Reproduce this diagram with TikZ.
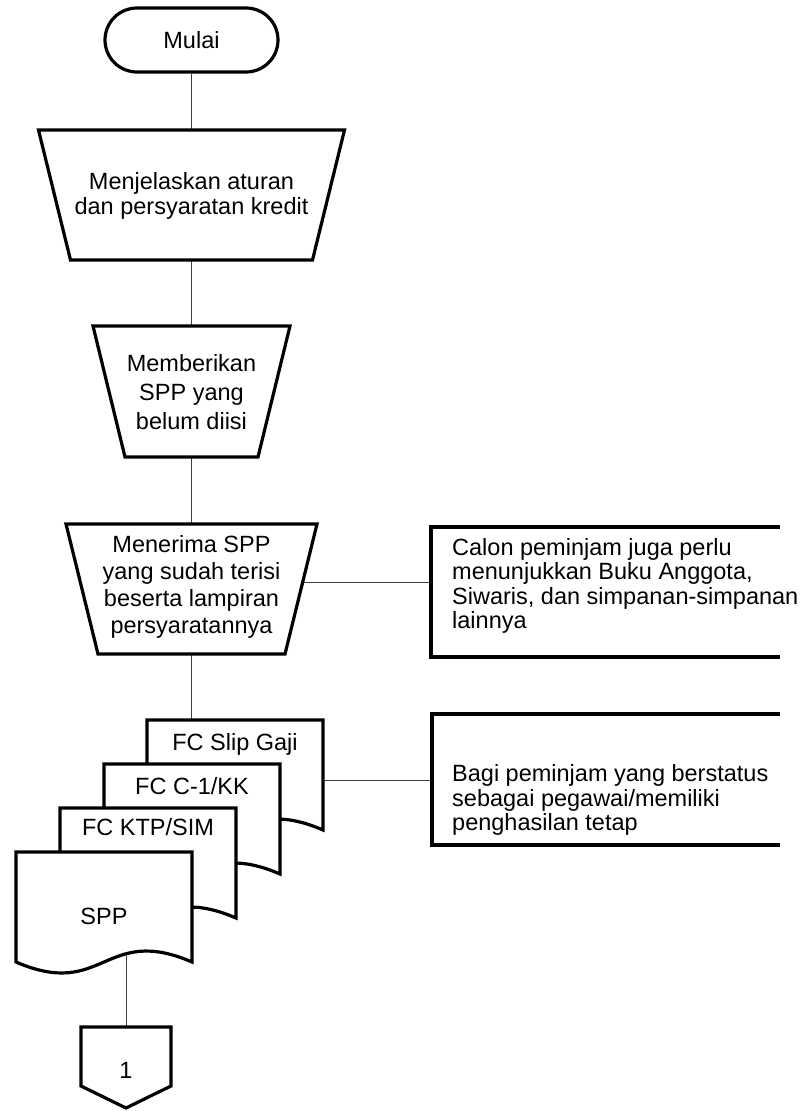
\documentclass[tikz,border=0pt]{standalone}
\usepackage{fontspec}
\setmainfont{Liberation Sans}
\usetikzlibrary{shapes.misc,calc}
\newcommand\lbfont{\fontsize{23.5}{25}\selectfont}
\newcommand\docoutline[1]{%
  \draw[shp] (#1.north west) -- (#1.north east) -- (#1.south east)
    .. controls ($(#1.south)+(0,38pt)$) and ($(#1.south)+(0,-38pt)$) .. (#1.south west) -- cycle;}
\begin{document}
\begin{tikzpicture}[x=1pt,y=-1pt,
  shp/.style={draw=black, line width=3.2pt, line join=miter, fill=white},
  conn/.style={draw=black!75, line width=1pt},
  lbl/.style={font=\lbfont, align=center, inner sep=0pt, text=black},
  annot/.style={font=\lbfont, align=left, inner sep=0pt, text=black},
  docframe/.style={draw=none, minimum width=176pt, minimum height=110pt, inner sep=0pt, outer sep=0pt},
  boxframe/.style={draw=none, inner sep=0pt, outer sep=0pt},
  terminal/.style={rounded rectangle, shp, minimum width=173pt, minimum height=64pt, font=\lbfont, inner sep=0pt}
  ]
\useasboundingbox (0,0) rectangle (809,1111);

% coordinates for connector ends
\coordinate (t1n) at (191.5,130);
\coordinate (t1s) at (191.5,260);
\coordinate (t2n) at (191.5,326);
\coordinate (t2s) at (191.5,457);
\coordinate (t3n) at (191.5,524);
\coordinate (t3s) at (191.5,654);
\coordinate (t3e) at (303,582);
\coordinate (sppw) at (126,953);
\coordinate (opn) at (126,1027);

% frames
\node[docframe, anchor=north west] (d4) at (147,720) {};
\node[docframe, anchor=north west] (d3) at (104,764) {};
\node[docframe, anchor=north west] (d2) at (60,808) {};
\node[docframe, anchor=north west] (d1) at (16,852) {};
\node[boxframe, minimum width=349pt, minimum height=130pt, anchor=north west] (a1) at (431,527) {};
\node[boxframe, minimum width=348pt, minimum height=131pt, anchor=north west] (a2) at (432,714) {};

% connectors
\node[terminal] (start) at (191.5,40) {Mulai};
\draw[conn] (start.south) -- (t1n);
\draw[conn] (t1s) -- (t2n);
\draw[conn] (t2s) -- (t3n);
\draw[conn] (t3s) -- (t3s |- d4.north);
\draw[conn] (t3e) -- (t3e -| a1.west);
\draw[conn] ([yshift=-5pt]d4.east) -- ([yshift=-5pt]d4.east -| a2.west);
\draw[conn] (sppw) -- (opn);

% process shapes
\draw[shp] (38.5,130) -- (344.5,130) -- (312.5,260) -- (70.5,260) -- cycle;
\node[lbl] (t1) at (191.5,196) {Menjelaskan aturan\\dan persyaratan kredit};

\draw[shp] (93,326) -- (290,326) -- (258,457) -- (125,457) -- cycle;
\node[lbl, font=\fontsize{23.5}{29}\selectfont] (t2) at (191.5,392) {Memberikan\\SPP yang\\belum diisi};

\draw[shp] (66,524) -- (317,524) -- (285,654) -- (98,654) -- cycle;
\node[lbl, font=\fontsize{23.5}{27}\selectfont] (t3) at (191.5,587) {Menerima SPP\\yang sudah terisi\\beserta lampiran\\persyaratannya};

% annotations
\draw[shp, fill=none] (a1.north east) -- (a1.north west) -- (a1.south west) -- (a1.south east);
\node[annot, font=\fontsize{23.5}{24.5}\selectfont, anchor=west] (a1t) at (452,586) {Calon peminjam juga perlu\\menunjukkan Buku Anggota,\\Siwaris, dan simpanan-simpanan\\lainnya};

\draw[shp, fill=none] (a2.north east) -- (a2.north west) -- (a2.south west) -- (a2.south east);
\node[annot, font=\fontsize{23.5}{24.5}\selectfont, anchor=west] (a2t) at (452,800) {Bagi peminjam yang berstatus\\sebagai pegawai/memiliki\\penghasilan tetap};

% document stack
\docoutline{d4}
\node[lbl, anchor=base] (d4t) at (235,750) {FC Slip Gaji};
\docoutline{d3}
\node[lbl, anchor=base] (d3t) at (192,794) {FC C-1/KK};
\docoutline{d2}
\node[lbl, anchor=base] (d2t) at (148,835) {FC KTP/SIM};
\docoutline{d1}
\node[lbl, anchor=base] (d1t) at (104,924) {SPP};

% off-page connector
\draw[shp] (81,1027) -- (171,1027) -- (171,1086) -- (126,1108) -- (81,1086) -- cycle;
\node[lbl, anchor=base] (op) at (126,1078) {1};
\end{tikzpicture}
\end{document}
